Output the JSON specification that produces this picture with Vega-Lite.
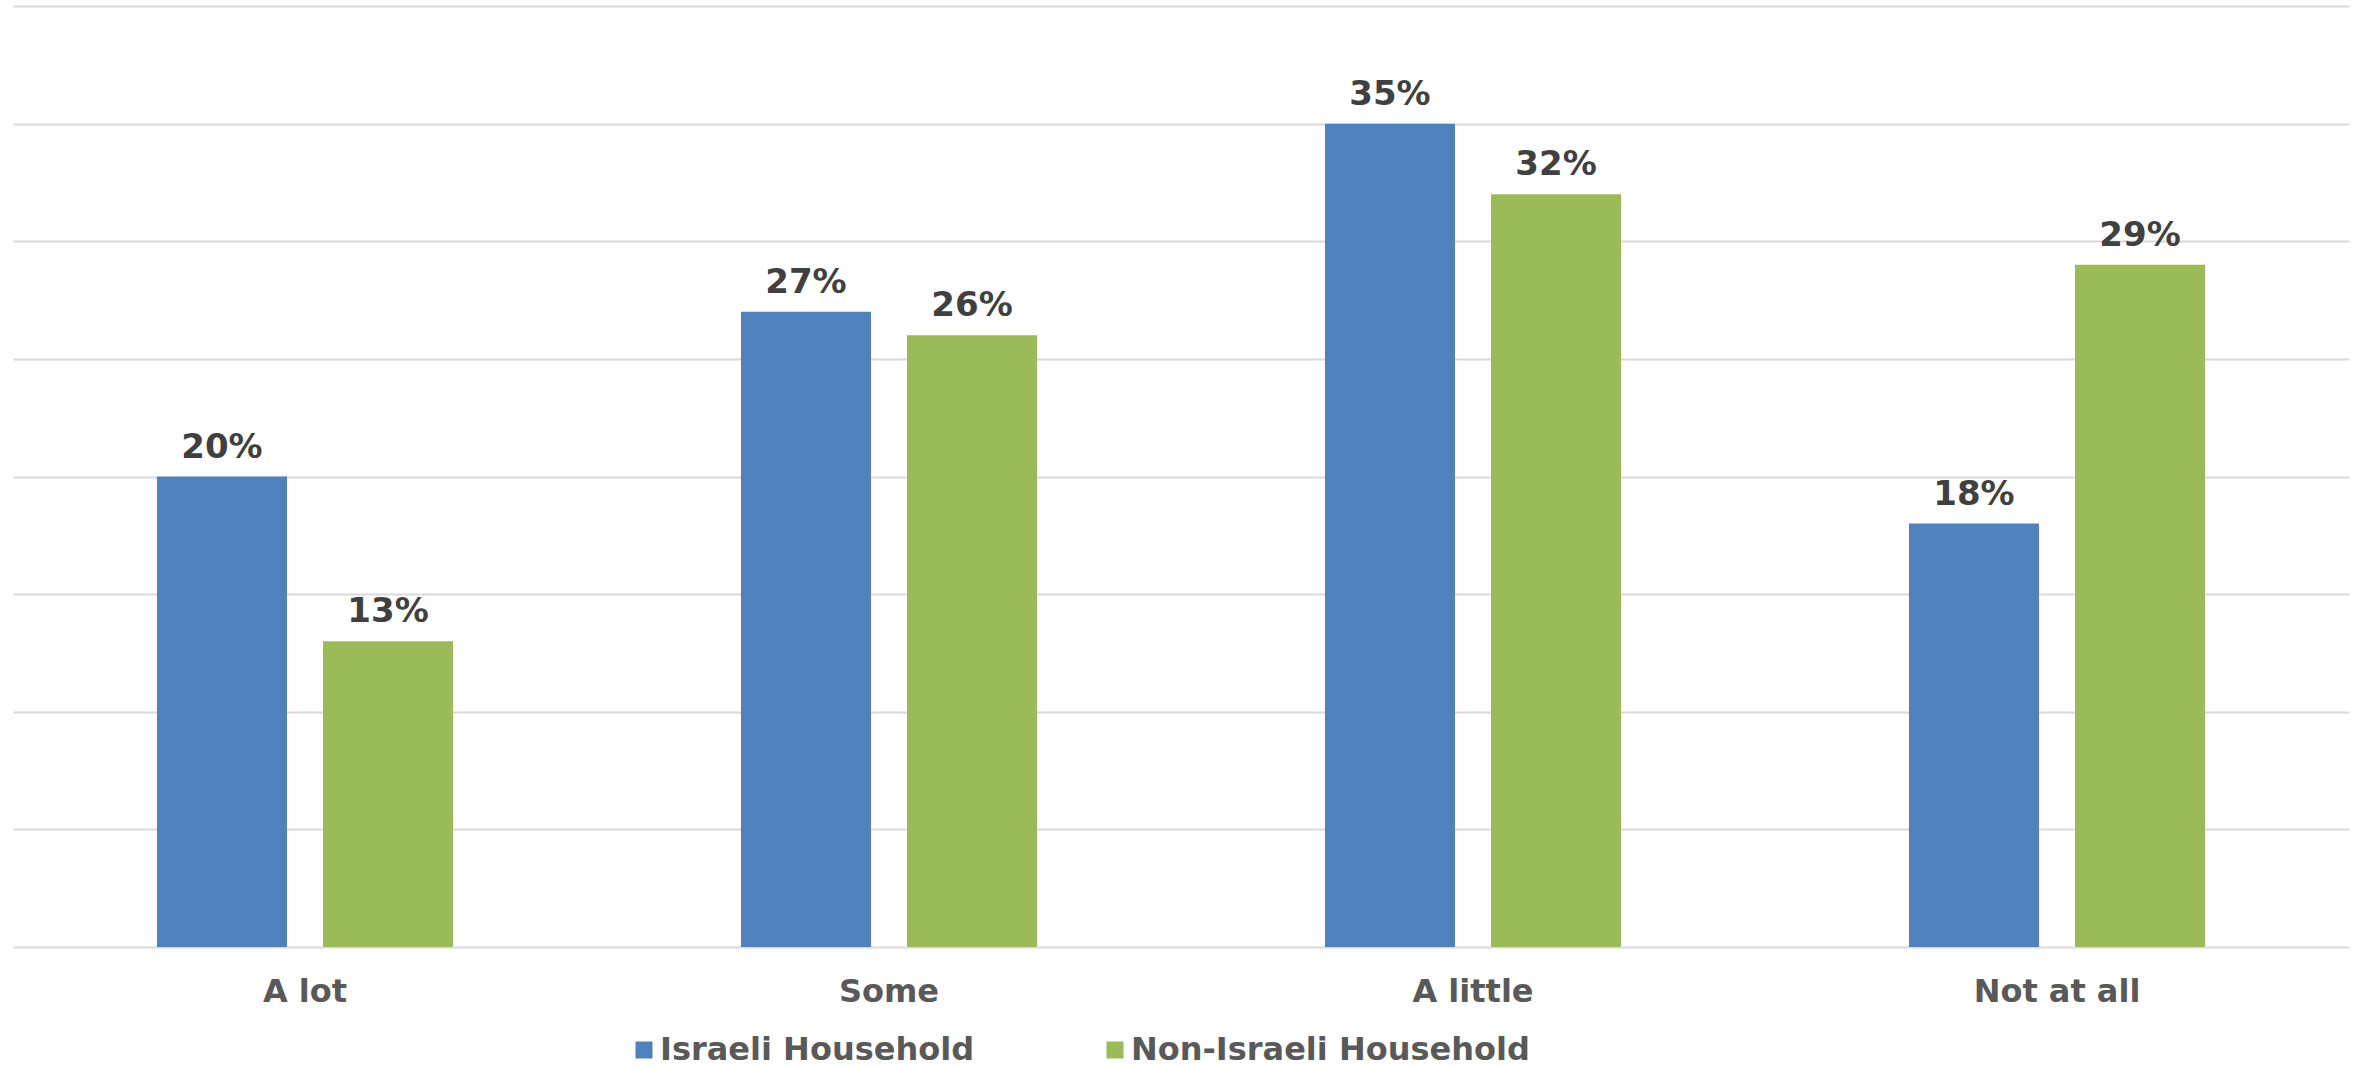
{
  "$schema": "https://vega.github.io/schema/vega-lite/v6.json",
  "width": 2336,
  "height": 941,
  "autosize": {"type": "none"},
  "padding": {"left": 13, "top": 6, "right": 14, "bottom": 121},
  "background": "#ffffff",
  "data": {
    "values": [
      {"category": "A lot", "group": "Israeli Household", "value": 0.20},
      {"category": "A lot", "group": "Non-Israeli Household", "value": 0.13},
      {"category": "Some", "group": "Israeli Household", "value": 0.27},
      {"category": "Some", "group": "Non-Israeli Household", "value": 0.26},
      {"category": "A little", "group": "Israeli Household", "value": 0.35},
      {"category": "A little", "group": "Non-Israeli Household", "value": 0.32},
      {"category": "Not at all", "group": "Israeli Household", "value": 0.18},
      {"category": "Not at all", "group": "Non-Israeli Household", "value": 0.29}
    ]
  },
  "config": {
    "view": {"stroke": null},
    "font": "DejaVu Sans"
  },
  "encoding": {
    "x": {
      "field": "category",
      "type": "nominal",
      "sort": ["A lot", "Some", "A little", "Not at all"],
      "scale": {"paddingInner": 0, "paddingOuter": 0},
      "axis": {
        "title": null,
        "labelAngle": 0,
        "labelFont": "DejaVu Sans",
        "labelFontWeight": "bold",
        "labelFontSize": 32,
        "labelColor": "#595959",
        "labelPadding": 29,
        "labelBaseline": "top",
        "ticks": false,
        "tickSize": 0,
        "domain": false,
        "grid": false
      }
    },
    "xOffset": {
      "field": "group",
      "type": "nominal",
      "sort": ["Israeli Household", "Non-Israeli Household"],
      "scale": {"paddingInner": 0.217, "paddingOuter": 0.867}
    },
    "y": {
      "field": "value",
      "type": "quantitative",
      "scale": {"domain": [0, 0.4], "nice": false},
      "axis": {
        "title": null,
        "labels": false,
        "ticks": false,
        "domain": false,
        "values": [0, 0.05, 0.1, 0.15, 0.2, 0.25, 0.3, 0.35, 0.4],
        "grid": true,
        "gridColor": "#d9d9d9",
        "gridWidth": 2
      }
    }
  },
  "layer": [
    {
      "mark": {"type": "bar"},
      "encoding": {
        "color": {
          "field": "group",
          "type": "nominal",
          "sort": ["Israeli Household", "Non-Israeli Household"],
          "scale": {"domain": ["Israeli Household", "Non-Israeli Household"], "range": ["#4f81bd", "#9bbb59"]},
          "legend": {
            "title": null,
            "orient": "none",
            "direction": "horizontal",
            "legendX": 615,
            "legendY": 1028,
            "padding": 0,
            "symbolType": "square",
            "symbolSize": 289,
            "symbolStrokeWidth": 0,
            "labelFont": "DejaVu Sans",
            "labelFontWeight": "bold",
            "labelFontSize": 32,
            "labelColor": "#595959",
            "labelOffset": 0,
            "columnPadding": 124,
            "labelLimit": 0
          }
        }
      }
    },
    {
      "mark": {
        "type": "text",
        "baseline": "alphabetic",
        "dy": -19,
        "font": "DejaVu Sans",
        "fontWeight": "bold",
        "fontSize": 34,
        "color": "#404040"
      },
      "encoding": {
        "text": {"field": "value", "type": "quantitative", "format": ".0%"}
      }
    }
  ]
}
